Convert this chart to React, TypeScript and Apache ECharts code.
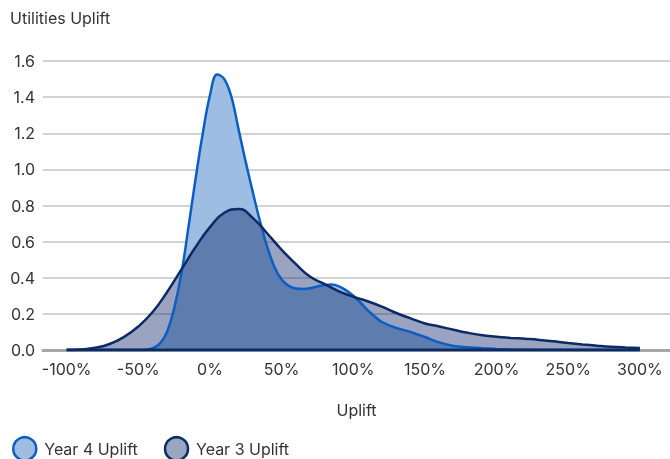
import React, { useEffect, useRef } from 'react';
import * as echarts from 'echarts';

const TITLE = 'Utilities Uplift';
const X_NAME = 'Uplift';
const SERIES_NAMES = ['Year 4 Uplift', 'Year 3 Uplift'];
const X_TICKS = [-100, -50, 0, 50, 100, 150, 200, 250, 300];

const xY4 = [-100, -90, -80, -70, -60, -50, -45, -40, -35, -30, -25, -20, -15, -10, -5, 0, 5, 10, 15, 20, 25, 30, 35, 40, 45, 50, 55, 60, 65, 70, 75, 80, 85, 90, 95, 100, 105, 110, 115, 120, 130, 140, 150, 160, 170, 180, 190, 200, 210, 220, 230, 240, 250, 260, 270, 280, 290, 300];
const y4 = [0, 0, 0, 0, 0, 0, 0.001, 0.01, 0.035, 0.1, 0.23, 0.42, 0.68, 0.95, 1.2, 1.41, 1.525, 1.5, 1.4, 1.22, 1.04, 0.87, 0.71, 0.57, 0.46, 0.39, 0.355, 0.34, 0.338, 0.342, 0.352, 0.36, 0.362, 0.352, 0.33, 0.3, 0.262, 0.22, 0.185, 0.155, 0.122, 0.1, 0.072, 0.042, 0.022, 0.015, 0.01, 0.006, 0.003, 0.001, 0, 0, 0, 0, 0, 0, 0, 0];

const xY3 = [-100, -90, -80, -70, -60, -50, -40, -30, -20, -10, 0, 10, 20, 30, 40, 50, 60, 70, 80, 90, 100, 110, 120, 130, 140, 150, 160, 170, 180, 190, 200, 210, 220, 230, 240, 250, 260, 270, 280, 290, 300];
const y3 = [0, 0.003, 0.012, 0.033, 0.072, 0.13, 0.21, 0.32, 0.445, 0.57, 0.68, 0.76, 0.78, 0.73, 0.645, 0.555, 0.475, 0.405, 0.365, 0.325, 0.295, 0.27, 0.24, 0.205, 0.175, 0.147, 0.13, 0.112, 0.095, 0.082, 0.073, 0.067, 0.062, 0.056, 0.048, 0.039, 0.031, 0.024, 0.018, 0.014, 0.011];

const FONT = 'Inter, "Noto Sans", sans-serif';
const TEXT = '#333333';
const Y4_LINE = '#0a5ec4';
const Y4_FILL = '#9dbde3';
const Y3_LINE = '#0b2a66';
const Y3_FILL = 'rgba(2, 28, 98, 0.4)';

export default function App() {
  const ref = useRef<HTMLDivElement>(null);
  useEffect(() => {
    const chart = echarts.init(ref.current!, null, { renderer: 'svg' });
    const d4 = xY4.map((x, i) => [x, y4[i]]);
    const d3 = xY3.map((x, i) => [x, y3[i]]);
    chart.setOption({
      animation: false,
      textStyle: { fontFamily: FONT },
      title: {
        text: TITLE,
        left: 10,
        top: 10,
        padding: 0,
        textStyle: { fontFamily: FONT, fontSize: 16, fontWeight: 'normal', color: TEXT },
      },
      grid: { left: 43, right: 0, top: 61, bottom: 109, containLabel: false },
      xAxis: {
        type: 'value',
        min: -116.5,
        max: 321,
        name: X_NAME,
        nameLocation: 'middle',
        nameGap: 52,
        nameTextStyle: { fontFamily: FONT, fontSize: 16, color: TEXT },
        splitLine: { show: false },
        axisTick: { show: false },
        axisLine: { show: true, onZero: false, lineStyle: { color: '#a6a6a6', width: 3 } },
        axisLabel: {
          customValues: X_TICKS,
          formatter: (v: number) => `${v}%`,
          fontFamily: FONT,
          fontSize: 16,
          color: TEXT,
          margin: 11,
        },
      },
      yAxis: {
        type: 'value',
        min: 0,
        max: 1.6,
        interval: 0.2,
        axisLine: { show: false },
        axisTick: { show: false },
        splitLine: { show: true, lineStyle: { color: '#c4c4c4', width: 1.5 } },
        axisLabel: {
          formatter: (v: number) => v.toFixed(1),
          fontFamily: FONT,
          fontSize: 16,
          color: TEXT,
          margin: 8,
        },
      },
      legend: {
        left: 7,
        top: 431,
        icon: 'circle',
        itemWidth: 23,
        itemHeight: 23,
        itemGap: 26,
        textStyle: { fontFamily: FONT, fontSize: 16, color: TEXT, padding: [0, 0, 0, 3] },
        data: [
          { name: SERIES_NAMES[0], itemStyle: { color: Y4_FILL, borderColor: Y4_LINE, borderWidth: 2.5 } },
          { name: SERIES_NAMES[1], itemStyle: { color: '#9aa5c0', borderColor: Y3_LINE, borderWidth: 2.5 } },
        ],
      },
      series: [
        {
          name: SERIES_NAMES[0],
          type: 'line',
          data: d4,
          smooth: 0.4,
          showSymbol: false,
          symbol: 'none',
          lineStyle: { width: 0 },
          itemStyle: { color: Y4_FILL },
          areaStyle: { color: Y4_FILL, opacity: 1 },
        },
        {
          name: SERIES_NAMES[1],
          type: 'line',
          data: d3,
          smooth: 0.5,
          showSymbol: false,
          symbol: 'none',
          lineStyle: { width: 0 },
          itemStyle: { color: '#9aa5c0' },
          areaStyle: { color: Y3_FILL, opacity: 1 },
        },
        {
          name: SERIES_NAMES[0],
          type: 'line',
          data: d4,
          smooth: 0.4,
          showSymbol: false,
          symbol: 'none',
          lineStyle: { width: 2.5, color: Y4_LINE },
          itemStyle: { color: Y4_LINE },
        },
        {
          name: SERIES_NAMES[1],
          type: 'line',
          data: d3,
          smooth: 0.5,
          showSymbol: false,
          symbol: 'none',
          lineStyle: { width: 2.5, color: Y3_LINE },
          itemStyle: { color: Y3_LINE },
        },
        {
          name: 'baseline',
          type: 'line',
          data: [[xY3[0], 0], [xY3[xY3.length - 1], 0]],
          showSymbol: false,
          symbol: 'none',
          silent: true,
          lineStyle: { width: 3, color: Y3_LINE },
        },
      ],
    });
    return () => chart.dispose();
  }, []);
  return <div ref={ref} style={{ position: 'fixed', left: 0, top: 0, width: 670, height: 459 }} />;
}
